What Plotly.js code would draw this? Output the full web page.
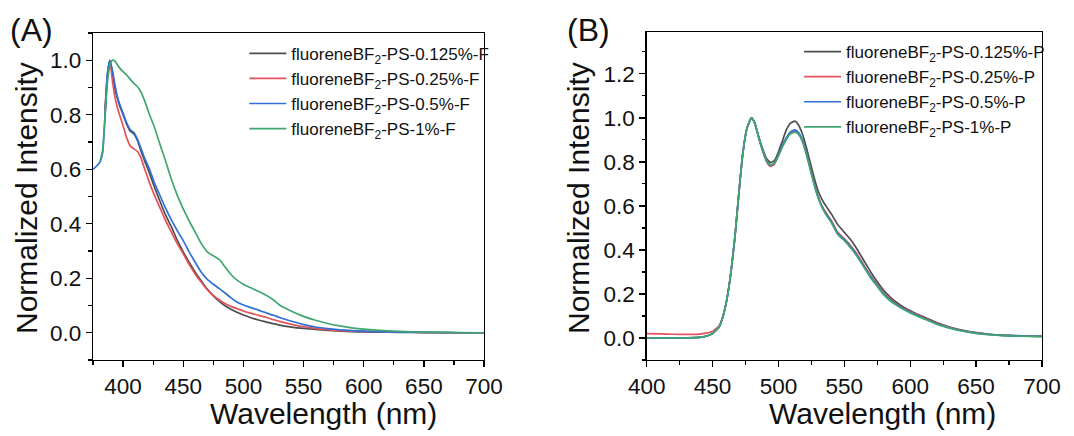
<!DOCTYPE html>
<html>
<head>
<meta charset="utf-8">
<script src="https://cdn.plot.ly/plotly-3.0.1.min.js"></script>
<style>html,body{margin:0;padding:0;background:#fff;}#chart{width:1074px;height:436px;}</style>
</head>
<body>
<div id="chart"></div>
<script>
// ---------- Panel A: fluorescence ----------
const wlA = [375, 378, 381, 383, 385, 387, 389, 391, 393, 395, 397, 400, 403, 406, 409, 412, 415, 418, 422, 426, 430, 435, 440, 445, 450, 455, 460, 465, 470, 475, 480, 485, 490, 495, 500, 505, 510, 515, 520, 525, 530, 540, 550, 560, 570, 580, 590, 600, 620, 640, 660, 680, 700];
const fA_0125 = [null, null, null, null, 0.82, 0.95, 1.0, 0.96, 0.90, 0.865, 0.835, 0.80, 0.765, 0.74, 0.73, 0.705, 0.665, 0.63, 0.585, 0.535, 0.49, 0.435, 0.39, 0.34, 0.297, 0.258, 0.222, 0.19, 0.16, 0.135, 0.115, 0.098, 0.085, 0.074, 0.065, 0.057, 0.05, 0.044, 0.038, 0.033, 0.028, 0.021, 0.016, 0.012, 0.009, 0.006, 0.004, 0.003, 0.002, 0.001, 0.0, 0.0, 0.0];
const fA_025 = [null, null, null, null, 0.80, 0.94, 1.0, 0.93, 0.87, 0.83, 0.80, 0.76, 0.715, 0.685, 0.675, 0.665, 0.64, 0.60, 0.55, 0.505, 0.465, 0.415, 0.37, 0.327, 0.29, 0.25, 0.215, 0.185, 0.158, 0.137, 0.12, 0.106, 0.096, 0.088, 0.08, 0.073, 0.067, 0.061, 0.055, 0.048, 0.042, 0.031, 0.022, 0.016, 0.011, 0.008, 0.006, 0.005, 0.003, 0.002, 0.001, 0.0, 0.0];
const fA_05 = [0.60, 0.612, 0.628, 0.66, 0.80, 0.95, 1.0, 0.965, 0.915, 0.87, 0.84, 0.805, 0.77, 0.745, 0.735, 0.71, 0.675, 0.64, 0.60, 0.55, 0.51, 0.46, 0.415, 0.375, 0.338, 0.296, 0.258, 0.222, 0.196, 0.178, 0.162, 0.145, 0.127, 0.112, 0.102, 0.094, 0.087, 0.079, 0.071, 0.064, 0.056, 0.042, 0.03, 0.021, 0.015, 0.011, 0.008, 0.006, 0.003, 0.002, 0.001, 0.0, 0.0];
const fA_1 = [null, null, 0.63, 0.67, 0.79, 0.92, 0.98, 1.0, 0.998, 0.985, 0.972, 0.958, 0.946, 0.93, 0.915, 0.903, 0.882, 0.85, 0.80, 0.755, 0.70, 0.635, 0.565, 0.505, 0.455, 0.41, 0.368, 0.327, 0.297, 0.282, 0.268, 0.24, 0.212, 0.192, 0.178, 0.167, 0.157, 0.147, 0.135, 0.12, 0.102, 0.079, 0.06, 0.046, 0.034, 0.025, 0.018, 0.013, 0.007, 0.003, 0.002, 0.001, 0.0];
const namesA = ['fluoreneBF<sub>2</sub>-PS-0.125%-F', 'fluoreneBF<sub>2</sub>-PS-0.25%-F', 'fluoreneBF<sub>2</sub>-PS-0.5%-F', 'fluoreneBF<sub>2</sub>-PS-1%-F'];

// ---------- Panel B: phosphorescence ----------
const wlB = [400, 410, 420, 430, 440, 445, 450, 455, 458, 461, 464, 467, 470, 473, 476, 479.5, 482, 485, 488, 491, 494, 497, 500, 503, 506, 509, 512.5, 515, 518, 521, 524, 527, 530, 533, 536, 540, 545, 550, 555, 560, 565, 570, 575, 580, 585, 590, 595, 600, 610, 620, 630, 640, 650, 660, 670, 680, 690, 700];
const pB_0125 = [0, 0, 0, 0.001, 0.003, 0.008, 0.02, 0.05, 0.1, 0.18, 0.3, 0.46, 0.66, 0.84, 0.95, 1.0, 0.978, 0.915, 0.86, 0.815, 0.797, 0.806, 0.845, 0.895, 0.945, 0.975, 0.985, 0.97, 0.93, 0.87, 0.8, 0.73, 0.67, 0.63, 0.6, 0.565, 0.515, 0.48, 0.445, 0.4, 0.35, 0.3, 0.255, 0.215, 0.185, 0.16, 0.14, 0.124, 0.096, 0.07, 0.05, 0.035, 0.024, 0.017, 0.013, 0.011, 0.009, 0.008];
const pB_025 = [0.02, 0.019, 0.017, 0.016, 0.018, 0.022, 0.03, 0.056, 0.1, 0.18, 0.3, 0.46, 0.66, 0.84, 0.95, 1.0, 0.975, 0.91, 0.85, 0.8, 0.78, 0.79, 0.828, 0.87, 0.905, 0.93, 0.94, 0.93, 0.9, 0.845, 0.775, 0.705, 0.645, 0.6, 0.57, 0.535, 0.48, 0.452, 0.418, 0.378, 0.33, 0.282, 0.242, 0.203, 0.175, 0.152, 0.134, 0.119, 0.092, 0.067, 0.048, 0.033, 0.023, 0.016, 0.012, 0.01, 0.008, 0.007];
const pB_05 = [0, 0, 0, 0.001, 0.003, 0.008, 0.02, 0.05, 0.1, 0.18, 0.3, 0.46, 0.66, 0.84, 0.95, 1.0, 0.976, 0.912, 0.852, 0.805, 0.785, 0.795, 0.832, 0.875, 0.91, 0.935, 0.945, 0.935, 0.902, 0.845, 0.775, 0.703, 0.643, 0.598, 0.566, 0.53, 0.475, 0.447, 0.413, 0.373, 0.325, 0.278, 0.238, 0.2, 0.172, 0.15, 0.132, 0.117, 0.09, 0.065, 0.046, 0.032, 0.022, 0.016, 0.012, 0.01, 0.008, 0.007];
const pB_1 = [0, 0, 0, 0.001, 0.003, 0.008, 0.02, 0.05, 0.1, 0.18, 0.3, 0.46, 0.66, 0.84, 0.95, 1.0, 0.976, 0.912, 0.852, 0.806, 0.786, 0.794, 0.828, 0.868, 0.902, 0.927, 0.935, 0.927, 0.895, 0.838, 0.768, 0.698, 0.638, 0.593, 0.561, 0.525, 0.47, 0.442, 0.408, 0.368, 0.32, 0.273, 0.234, 0.196, 0.168, 0.147, 0.129, 0.114, 0.088, 0.063, 0.045, 0.031, 0.021, 0.015, 0.011, 0.009, 0.007, 0.006];
const namesB = ['fluoreneBF<sub>2</sub>-PS-0.125%-P', 'fluoreneBF<sub>2</sub>-PS-0.25%-P', 'fluoreneBF<sub>2</sub>-PS-0.5%-P', 'fluoreneBF<sub>2</sub>-PS-1%-P'];

const colors = ['#4d4d4d', '#e5525a', '#2f6fd8', '#3fa66f'];

const FONT = 'Arial, "Liberation Sans", sans-serif';
const seriesA = [fA_0125, fA_025, fA_05, fA_1];
const seriesB = [pB_0125, pB_025, pB_05, pB_1];

const traces = [];
seriesA.forEach((ys, i) => traces.push({
  x: wlA, y: ys, type: 'scatter', mode: 'lines', name: namesA[i],
  line: {color: colors[i], width: 1.7, shape: 'spline', smoothing: 0.5},
  xaxis: 'x', yaxis: 'y', legend: 'legend', legendgroup: 'a' + i
}));
seriesB.forEach((ys, i) => traces.push({
  x: wlB, y: ys, type: 'scatter', mode: 'lines', name: namesB[i],
  line: {color: colors[i], width: 1.7, shape: 'spline', smoothing: 0.5},
  xaxis: 'x2', yaxis: 'y2', legend: 'legend2', legendgroup: 'b' + i
}));

const axBase = {
  showline: true, linecolor: '#000', linewidth: 1.3, mirror: true,
  ticks: 'outside', ticklen: 6, tickwidth: 1.3, tickcolor: '#000',
  tickfont: {family: FONT, size: 22.5, color: '#111'},
  showgrid: false, zeroline: false
};

const layout = {
  width: 1074, height: 436,
  margin: {l: 0, r: 0, t: 0, b: 0},
  paper_bgcolor: '#fff', plot_bgcolor: '#fff',
  font: {family: FONT, color: '#111'},
  xaxis: Object.assign({}, axBase, {domain: [0.0866, 0.4507], range: [375, 700], tick0: 400, dtick: 50,
    minor: {ticks: 'outside', ticklen: 3.5, tickwidth: 1.2, tickcolor: '#000', tick0: 375, dtick: 25, showgrid: false}, anchor: 'y'}),
  yaxis: Object.assign({}, axBase, {domain: [0.1743, 0.9243], range: [-0.1, 1.1], tick0: 0, dtick: 0.2, tickformat: '.1f',
    minor: {ticks: 'outside', ticklen: 3.5, tickwidth: 1.2, tickcolor: '#000', tick0: 0, dtick: 0.1, showgrid: false}, anchor: 'x'}),
  xaxis2: Object.assign({}, axBase, {domain: [0.6021, 0.9702], range: [400, 700], tick0: 400, dtick: 50,
    minor: {ticks: 'outside', ticklen: 3.5, tickwidth: 1.2, tickcolor: '#000', tick0: 400, dtick: 25, showgrid: false}, anchor: 'y2'}),
  yaxis2: Object.assign({}, axBase, {domain: [0.1743, 0.9266], range: [-0.1, 1.39], tick0: 0, dtick: 0.2, tickformat: '.1f',
    minor: {ticks: 'outside', ticklen: 3.5, tickwidth: 1.2, tickcolor: '#000', tick0: 0, dtick: 0.1, showgrid: false}, anchor: 'x2'}),
  legend: {x: 0.2275, y: 0.918, xanchor: 'left', yanchor: 'top', bgcolor: 'rgba(0,0,0,0)', borderwidth: 0, itemwidth: 37,
    font: {family: FONT, size: 17, color: '#111'}, tracegroupgap: 0, traceorder: 'normal'},
  legend2: {x: 0.744, y: 0.922, xanchor: 'left', yanchor: 'top', bgcolor: 'rgba(0,0,0,0)', borderwidth: 0, itemwidth: 37,
    font: {family: FONT, size: 17, color: '#111'}, tracegroupgap: 0, traceorder: 'normal'},
  showlegend: true,
  annotations: [
    {text: '(A)', xref: 'paper', yref: 'paper', x: 31 / 1074, y: 1 - 30 / 436, xanchor: 'center', yanchor: 'middle', showarrow: false, font: {family: FONT, size: 32, color: '#111'}},
    {text: '(B)', xref: 'paper', yref: 'paper', x: 588 / 1074, y: 1 - 30 / 436, xanchor: 'center', yanchor: 'middle', showarrow: false, font: {family: FONT, size: 32, color: '#111'}},
    {text: 'Wavelength (nm)', xref: 'paper', yref: 'paper', x: 323 / 1074, y: 1 - 413 / 436, xanchor: 'center', yanchor: 'middle', showarrow: false, font: {family: FONT, size: 30, color: '#111'}},
    {text: 'Wavelength (nm)', xref: 'paper', yref: 'paper', x: 882 / 1074, y: 1 - 413 / 436, xanchor: 'center', yanchor: 'middle', showarrow: false, font: {family: FONT, size: 30, color: '#111'}},
    {text: 'Normalized Intensity', xref: 'paper', yref: 'paper', x: 26 / 1074, y: 1 - 198 / 436, xanchor: 'center', yanchor: 'middle', textangle: -90, showarrow: false, font: {family: FONT, size: 30, color: '#111'}},
    {text: 'Normalized Intensity', xref: 'paper', yref: 'paper', x: 578 / 1074, y: 1 - 198 / 436, xanchor: 'center', yanchor: 'middle', textangle: -90, showarrow: false, font: {family: FONT, size: 30, color: '#111'}}
  ]
};

Plotly.newPlot('chart', traces, layout, {staticPlot: true, displayModeBar: false});
</script>
</body>
</html>
